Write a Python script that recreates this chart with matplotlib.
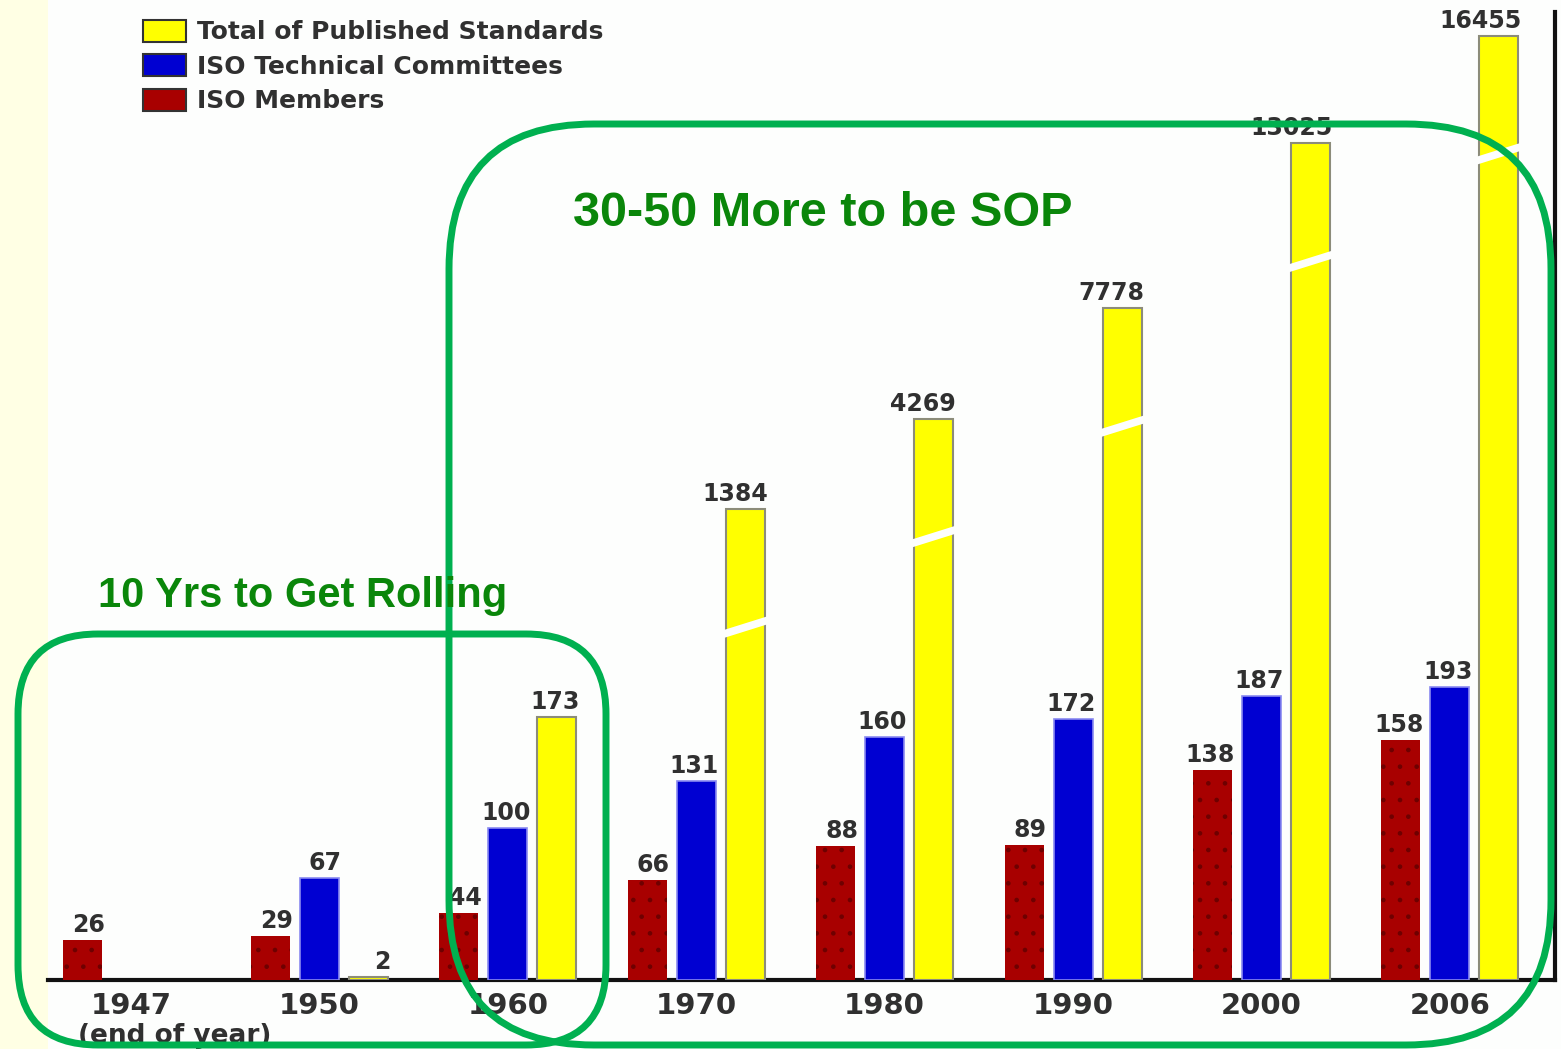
import numpy as np
import matplotlib
matplotlib.use("Agg")
import matplotlib.pyplot as plt
from matplotlib.patches import Patch, FancyBboxPatch, Rectangle, Polygon
from matplotlib.transforms import IdentityTransform

# ---------------- data ----------------
years = ['1947', '1950', '1960', '1970', '1980', '1990', '2000', '2006']
members = [26, 29, 44, 66, 88, 89, 138, 158]
committees = [np.nan, 67, 100, 131, 160, 172, 187, 193]
standards = [np.nan, 2, 173, 1384, 4269, 7778, 13025, 16455]
series_labels = ['Total of Published Standards', 'ISO Technical Committees', 'ISO Members']
note_big = '30-50 More to be SOP'
note_small = '10 Yrs to Get Rolling'
xnote = '(end of year)'

# ---------------- style ----------------
W, H = 1561, 1049
C_RED, C_BLUE, C_YEL = '#A80000', '#0000D2', '#FFFF00'
C_TXT = '#303030'
C_BOX = '#00B050'
C_NOTE = '#0A860A'
plt.rcParams['font.family'] = ['DejaVu Sans']
plt.rcParams['hatch.linewidth'] = 0.9

fig = plt.figure(figsize=(W / 100, H / 100), dpi=100, facecolor='#FDFEFD')
# light-yellow slide strip on the left
fig.add_artist(Rectangle((0, 0), 48, H, transform=IdentityTransform(),
                         facecolor='#FFFFE4', edgecolor='none', zorder=0))

ax = fig.add_axes([48 / W, (H - 980) / H, (1555 - 48) / W, (980 - 12) / H])
ax.set_facecolor('#FDFEFD')

# broken (compressed) value scale for the tall bars
B, R = 287.0, 0.02067
def fwd(v):
    v = np.asarray(v, dtype=float)
    return np.where(v <= B, v, B + (v - B) * R)
def inv(d):
    d = np.asarray(d, dtype=float)
    return np.where(d <= B, d, B + (d - B) / R)
ax.set_yscale('function', functions=(fwd, inv))

x = np.arange(len(years))
bw = 0.207
off = 0.26
mem = np.array(members, float)
com = np.array(committees, float)
std = np.array(standards, float)

ax.bar(x - off, mem, bw, color=C_RED, edgecolor='#6E0000', linewidth=0,
       hatch='.', zorder=3)
ax.bar(x, com, bw, color=C_BLUE, edgecolor='#8A8AF0', linewidth=1.2, zorder=3)
ax.bar(x + off, std, bw, color=C_YEL, edgecolor='#8C8C7A', linewidth=1.5, zorder=3)

top_disp = 636.8
ax.set_xlim(-0.441, 7.558)
ax.set_ylim(0, float(inv(top_disp)))

# break marks on the compressed bars
px_per_unit = 968 / top_disp
for xi, v in zip(x, std):
    if np.isnan(v) or v <= B:
        continue
    dtop = float(fwd(v))
    yc = dtop - 118 / px_per_unit
    half = 4.0 / px_per_unit
    slope = 7 / px_per_unit
    xl = xi + off - bw / 2 - 0.015
    xr = xi + off + bw / 2 + 0.015
    pts = [(xl, yc - slope - half), (xr, yc + slope - half),
           (xr, yc + slope + half), (xl, yc - slope + half)]
    pts = [(px, float(inv(py))) for px, py in pts]
    ax.add_patch(Polygon(pts, closed=True, facecolor='#FDFEFD',
                         edgecolor='none', zorder=4))

# value labels
def label(xc, vals):
    for xi, v in zip(xc, vals):
        if np.isnan(v):
            continue
        ax.annotate(f'{int(v)}', xy=(xi + bw / 2, v), xytext=(3, 8),
                    textcoords='offset pixels', ha='right', va='baseline',
                    fontsize=17, fontweight='bold', color=C_TXT, zorder=5,
                    annotation_clip=False)
label(x - off, mem)
label(x, com)
label(x + off, std)

# axes decoration
for s in ['left', 'top']:
    ax.spines[s].set_visible(False)
ax.spines['bottom'].set_linewidth(3)
ax.spines['right'].set_linewidth(3)
ax.spines['bottom'].set_color('#111111')
ax.spines['right'].set_color('#111111')
ax.set_yticks([])
ax.set_xticks(x)
ax.set_xticklabels(years, fontsize=21, fontweight='bold', color=C_TXT)
ax.tick_params(axis='x', length=0, pad=9)
fig.text(78 / W, (H - 1043) / H, xnote, fontsize=19, fontweight='bold',
         color=C_TXT, ha='left', va='baseline')

# legend
handles = [Patch(facecolor=C_YEL, edgecolor='#333333', linewidth=1.5),
           Patch(facecolor=C_BLUE, edgecolor='#333333', linewidth=1.5),
           Patch(facecolor=C_RED, edgecolor='#333333', linewidth=1.5)]
leg = ax.legend(handles, series_labels, loc='upper left',
                bbox_to_anchor=(143 / W, 1 - 20 / H), bbox_transform=fig.transFigure,
                frameon=False, borderpad=0, borderaxespad=0,
                prop={'size': 18, 'weight': 'bold'},
                handlelength=1.72, handleheight=0.96, handletextpad=0.45,
                labelspacing=0.4)
for t in leg.get_texts():
    t.set_color(C_TXT)

# green annotation boxes
def rbox(x0, y0, x1, y1, r):
    p = FancyBboxPatch((x0, H - y1), x1 - x0, y1 - y0,
                       boxstyle=f'round,pad=0,rounding_size={r}',
                       transform=IdentityTransform(), facecolor='none',
                       edgecolor=C_BOX, linewidth=5, zorder=10)
    fig.add_artist(p)
rbox(449, 124, 1551, 1045, 145)
rbox(18, 634, 606, 1045, 80)

fig.text(573 / W, (H - 226) / H, note_big, fontsize=35, fontweight='bold',
         family=['Liberation Sans', 'DejaVu Sans'], color=C_NOTE,
         ha='left', va='baseline', zorder=11)
fig.text(98 / W, (H - 607) / H, note_small, fontsize=30, fontweight='bold',
         family=['Liberation Sans', 'DejaVu Sans'], color=C_NOTE,
         ha='left', va='baseline', zorder=11)

fig.savefig('out.png', dpi=100, facecolor=fig.get_facecolor())
